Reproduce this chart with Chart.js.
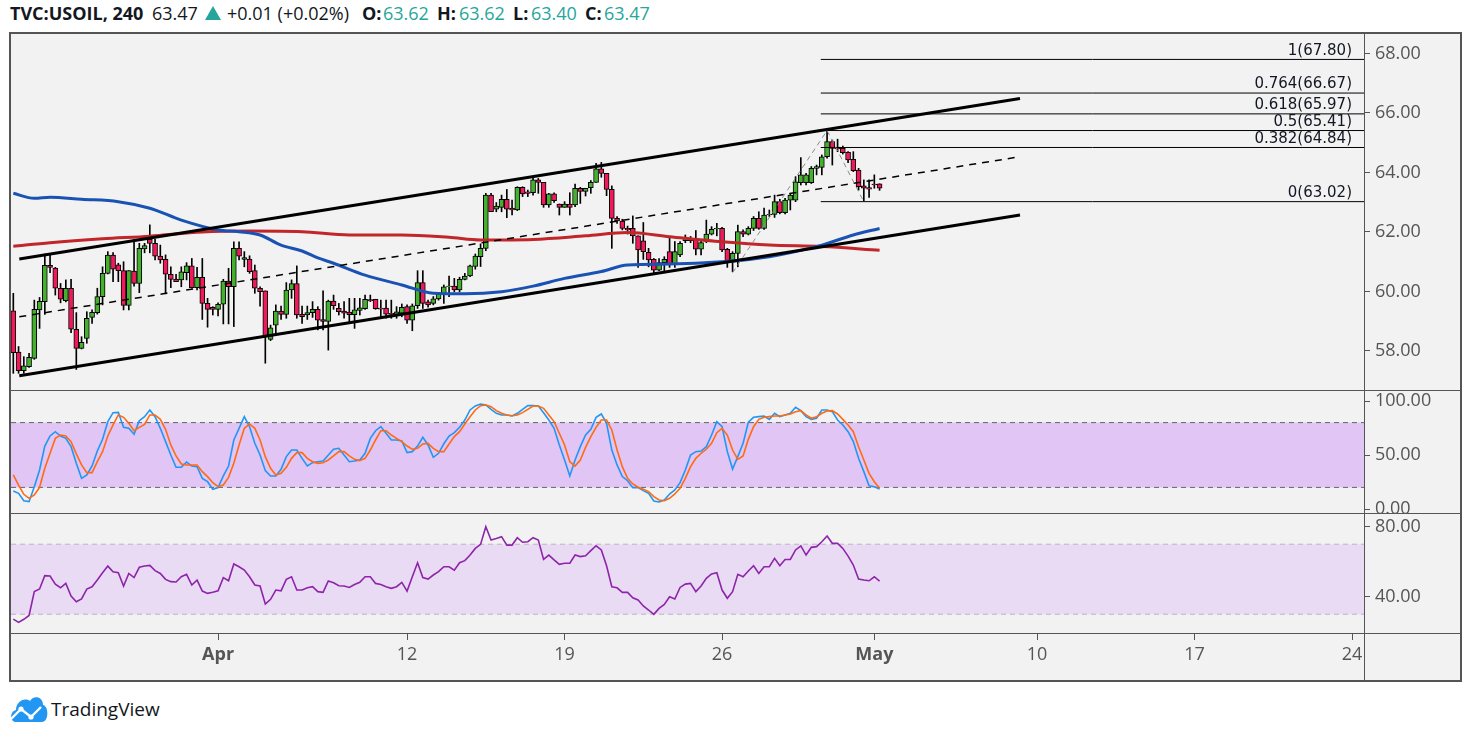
<!DOCTYPE html>
<html>
<head>
<meta charset="utf-8">
<script src="https://cdn.jsdelivr.net/npm/chart.js@4.4.1/dist/chart.umd.min.js"></script>
<style>
body{margin:0;background:#fff;width:1471px;height:737px;position:relative;overflow:hidden;font-family:'Open Sans',sans-serif;}
.h{position:absolute;top:0px;font-size:18px;line-height:26px;color:#131722;white-space:nowrap}
.b{font-weight:bold}
.t{color:#26a69a}
#frame{position:absolute;left:9px;top:32px;width:1449px;height:646px;border:2px solid #555;background:#f2f2f2}
.hl{position:absolute;left:11px;width:1449px;height:1px;background:#555}
.vl{position:absolute;left:1364px;top:34px;width:1px;height:646px;background:#555}
canvas{position:absolute;left:11px}
#tri{position:absolute;left:205px;top:6px;width:0;height:0;border-left:8px solid transparent;border-right:8px solid transparent;border-bottom:14px solid #26a69a}
#logo{position:absolute;left:9px;top:692px}
#tv{position:absolute;left:51px;top:696px;font-size:19px;line-height:26px;color:#131722}
</style>
</head>
<body>
<div class="h b" style="left:10px">TVC:USOIL, 240</div>
<div class="h" style="left:152px">63.47</div>
<div id="tri"></div>
<div class="h" style="left:227px">+0.01 (+0.02%)</div>
<div class="h b" style="left:362px">O:</div><div class="h t" style="left:383px">63.62</div>
<div class="h b" style="left:437px">H:</div><div class="h t" style="left:459px">63.62</div>
<div class="h b" style="left:513px">L:</div><div class="h t" style="left:531px">63.40</div>
<div class="h b" style="left:585px">C:</div><div class="h t" style="left:604px">63.47</div>

<div id="frame"></div>
<canvas id="price" width="1449" height="356" style="top:34px"></canvas>
<canvas id="stoch" width="1449" height="122" style="top:391px"></canvas>
<canvas id="rsi" width="1449" height="166" style="top:514px"></canvas>
<div class="hl" style="top:390px"></div>
<div class="hl" style="top:513px"></div>
<div class="hl" style="top:633px"></div>
<div class="vl"></div>

<svg id="logo" width="40" height="31" viewBox="0 0 40 31">
  <path d="M7 30 C1 30 0 20 7 18 C7 10 15 5 21 9 C24 3 34 4 34 13 C40 14 40 30 33 30 Z" fill="#2196f3"/>
  <polyline points="2,27 12,17 22,25 32,15" stroke="#fff" stroke-width="2.4" fill="none"/>
  <circle cx="12" cy="17" r="2.6" fill="#fff"/><circle cx="22" cy="25" r="2.6" fill="#fff"/>
</svg>
<div id="tv">TradingView</div>

<script>
// candles (4h bars, index 0 = first bar on the left)
const opens = [59.35,57.96,57.34,57.47,57.75,59.38,59.66,60.88,60.79,60.11,
59.69,60.11,58.73,58.09,58.42,59.13,59.29,59.83,60.61,61.22,
60.90,60.70,59.53,60.69,60.27,61.43,61.75,61.62,61.19,61.08,
60.58,60.42,60.39,60.63,60.86,60.13,60.48,59.60,59.47,59.40,
59.57,60.35,60.16,61.45,61.08,61.09,60.70,60.11,60.02,58.39,
58.87,59.34,59.23,60.05,60.27,59.23,59.21,59.29,59.40,59.06,
58.99,59.68,59.43,59.34,59.31,59.22,59.36,59.42,59.73,59.74,
59.44,59.44,59.27,59.23,59.27,59.49,59.04,59.52,60.30,59.65,
59.60,59.75,59.92,60.16,60.18,60.05,60.41,60.52,60.84,61.17,
61.45,63.24,62.77,62.83,63.10,62.80,62.74,63.50,63.35,63.32,
63.75,63.67,62.91,63.28,62.94,62.83,62.94,62.91,63.47,63.36,
63.49,63.67,64.12,63.97,63.43,62.46,62.37,62.12,62.12,61.87,
61.70,61.32,61.08,60.72,60.97,61.34,60.93,61.23,61.71,61.71,
61.79,61.42,61.68,61.93,62.10,62.12,61.42,61.04,61.28,62.01,
61.93,62.12,62.46,62.12,62.57,62.59,63.02,62.65,63.07,63.07,
63.66,63.66,63.66,64.14,64.17,64.53,65.04,64.85,64.81,64.68,
64.44,64.08,63.55,63.49,63.61,63.62];
const highs = [59.94,58.15,57.81,57.92,59.71,59.80,61.26,61.26,60.81,60.27,
60.39,60.41,59.29,58.48,59.32,59.38,60.11,60.83,61.34,61.31,
60.95,61.00,60.70,61.75,61.62,61.62,62.24,61.75,61.56,61.23,
60.83,60.58,60.83,60.97,61.11,60.81,61.11,59.77,59.49,59.62,
60.41,60.78,61.67,61.67,61.34,61.20,60.89,60.16,60.02,58.87,
59.55,59.51,60.30,60.39,60.86,59.51,59.51,59.66,59.49,60.02,
59.71,59.88,59.60,59.66,59.77,59.77,59.77,59.88,59.88,59.74,
59.71,59.71,59.71,59.49,59.58,59.55,59.58,60.70,60.70,59.71,
59.83,59.96,60.22,60.52,60.44,60.48,60.61,60.89,61.26,61.60,
63.30,63.30,62.99,63.24,63.43,63.07,63.52,63.52,63.41,63.80,
63.80,63.67,63.30,63.32,62.94,63.02,63.32,63.61,63.50,63.47,
63.73,64.31,64.34,63.97,63.55,62.52,62.43,62.20,62.54,61.87,
62.32,61.45,61.11,61.11,61.17,61.79,61.68,61.68,61.90,61.85,
62.05,61.73,62.40,62.18,62.29,62.16,61.45,61.34,62.23,62.07,
62.18,62.52,62.68,62.80,62.74,63.24,63.10,63.13,63.30,63.86,
64.50,63.97,64.20,64.25,64.59,65.41,65.09,65.12,64.89,64.70,
64.70,64.14,63.75,63.75,63.92,63.62];
const lows = [57.25,57.25,57.25,57.45,57.72,58.76,59.23,60.63,59.88,59.62,
59.65,58.62,57.38,58.07,58.26,58.93,59.24,59.55,60.59,60.33,
60.33,59.38,59.38,60.18,59.96,61.30,61.30,61.06,60.95,59.92,
60.13,60.33,60.16,60.39,60.11,60.05,59.06,58.80,59.21,59.18,
58.91,58.91,58.82,61.06,60.83,60.61,59.94,59.51,57.59,58.35,
58.59,59.06,59.10,59.77,59.10,58.93,59.06,59.13,58.71,58.71,
58.03,59.40,59.21,59.10,58.95,58.76,59.21,59.40,59.66,59.40,
59.10,59.10,59.10,59.10,59.15,58.93,58.68,59.43,59.43,59.47,
59.55,59.71,59.60,59.83,59.99,59.99,60.39,60.50,60.75,60.84,
61.37,62.68,62.68,62.68,62.48,62.57,62.72,63.19,63.19,63.24,
63.30,62.83,62.83,62.99,62.57,62.83,62.57,62.85,62.96,63.21,
63.30,63.67,63.84,63.22,61.45,62.29,62.07,61.93,61.62,60.81,
61.08,60.83,60.61,60.70,60.63,60.81,60.81,61.17,61.64,61.64,
61.23,61.23,61.64,61.90,61.87,61.34,60.81,60.67,60.83,61.84,
61.90,62.05,62.09,62.09,62.52,62.49,62.61,62.61,62.74,63.02,
63.58,63.58,63.63,63.92,63.92,64.48,64.25,64.70,64.62,64.33,
64.03,63.41,63.05,63.16,63.47,63.40];
const closes = [57.94,57.34,57.50,57.79,59.40,59.67,60.88,60.81,60.11,59.74,
60.11,58.73,58.09,58.29,59.10,59.30,59.83,60.61,61.22,60.75,
60.70,59.53,60.70,60.27,61.45,61.54,61.62,61.19,61.06,60.58,
60.41,60.33,60.66,60.86,60.13,60.48,59.60,59.40,59.40,59.57,
60.35,60.16,61.45,61.19,61.14,60.67,60.11,59.99,58.48,58.78,
59.34,59.23,60.05,60.27,59.21,59.15,59.29,59.40,59.04,58.99,
59.68,59.52,59.32,59.27,59.22,59.38,59.45,59.74,59.68,59.42,
59.41,59.24,59.23,59.32,59.47,59.04,59.52,60.30,59.60,59.55,
59.75,59.92,60.16,60.18,60.05,60.41,60.52,60.86,61.19,61.45,
63.24,62.68,62.87,63.10,62.77,62.74,63.50,63.28,63.30,63.75,
63.67,62.91,63.28,63.05,62.83,62.94,62.83,63.47,63.36,63.47,
63.67,64.12,63.97,63.43,62.46,62.37,62.12,62.07,61.87,61.40,
61.34,61.06,60.72,60.97,61.08,60.93,61.34,61.62,61.79,61.79,
61.42,61.64,61.93,62.09,62.12,61.40,61.04,61.28,62.01,61.93,
62.12,62.46,62.12,62.57,62.59,63.02,62.65,63.07,63.24,63.69,
63.92,63.92,64.14,64.20,64.53,65.04,64.81,64.79,64.67,64.42,
64.06,63.52,63.47,63.44,63.58,63.47];

// moving averages, read at a few bars
const blueIdx = [0,4,7,13,20,26,32,39,43,47,51,55,58,61,67,74,80,86,93,99,105,112,117,125,135,144,154,160,165];
const blueVal = [63.30,63.13,63.17,63.10,63.02,62.80,62.40,62.07,62.01,61.90,61.56,61.36,61.13,60.95,60.55,60.22,59.94,59.92,59.99,60.18,60.44,60.67,60.89,60.92,61.00,61.17,61.56,61.90,62.12];
const redIdx = [0,7,17,26,36,45,55,64,74,83,89,99,109,117,125,135,144,154,165];
const redVal = [61.52,61.64,61.77,61.86,62.00,62.03,62.01,61.90,61.90,61.82,61.73,61.75,61.87,61.98,61.84,61.67,61.56,61.51,61.39];

// drawings
const channelX = [1.14, 191.75];
const channelUp = [61.09, 66.49];
const channelMid = [59.15, 64.53];
const channelLow = [57.17, 62.57];
const zigIdx = [137, 155, 162];
const zigVal = [60.63, 65.41, 63.02];
const fibStart = 153.8;
const fibRatios = [1, 0.764, 0.618, 0.5, 0.382, 0];
const fibPrices = [67.80, 66.67, 65.97, 65.41, 64.84, 63.02];

// oscillators
const stochK = [16.7,14.5,7.7,6.8,20.7,36.1,58.3,67.6,71.6,67.6,
65.4,57.7,42.3,28.4,31.5,39.8,53.7,64.5,80.9,89.2,
89.5,75.6,74.7,69.2,81.8,85.5,91.7,85.5,74.7,62.4,
50.0,38.6,38.6,43.5,39.8,39.2,28.4,25.3,18.2,19.8,
30.6,39.8,63.9,74.7,85.5,76.2,60.8,50.0,35.5,30.6,
30.6,36.7,48.5,54.6,54.6,46.9,39.8,42.9,43.8,44.5,
50.0,55.3,56.2,50.0,43.8,44.5,45.4,51.6,65.4,72.5,
76.3,70.1,63.9,63.9,63.0,52.2,53.1,58.3,66.4,59.3,
47.9,51.6,60.4,67.6,70.7,75.6,82.4,91.7,95.4,97.2,
96.3,92.3,88.6,87.1,87.1,86.1,88.6,92.3,95.7,95.7,
95.4,89.2,82.4,74.7,59.3,45.4,30.6,45.4,57.7,68.5,
73.8,84.9,88.0,79.3,54.6,40.8,30.0,26.2,19.8,19.8,
17.0,14.5,7.4,6.5,8.3,13.9,17.6,24.4,36.1,50.0,
53.1,53.7,57.7,68.5,80.9,76.2,53.1,37.0,48.5,60.8,
80.3,84.9,85.5,86.1,83.0,88.6,85.5,87.1,88.6,94.2,
91.1,85.5,83.0,84.0,91.7,91.7,90.1,82.4,77.8,71.6,
62.4,46.9,34.6,21.6,20.7,18.5];
const stochD = [31.5,22.2,13.6,9.9,13.0,20.1,37.7,51.6,65.4,68.5,
67.6,62.4,51.0,40.8,33.7,33.7,43.8,53.1,67.6,77.8,
87.1,84.9,79.3,72.5,75.6,78.4,87.1,87.1,83.0,73.8,
59.3,49.1,41.7,40.8,40.8,40.8,34.6,30.0,24.4,20.7,
22.2,29.3,42.3,59.3,74.7,78.7,74.7,63.9,48.5,37.7,
31.5,33.0,38.6,46.9,52.2,52.2,46.9,43.8,42.3,42.9,
45.4,49.1,53.1,53.1,49.1,46.0,44.8,46.9,54.6,63.9,
72.5,72.5,68.5,65.4,62.4,58.3,55.3,56.2,60.2,60.8,
56.2,53.1,53.1,60.2,67.0,71.6,78.7,85.5,91.7,95.7,
96.3,94.8,91.1,88.6,87.1,86.4,87.1,89.2,92.3,95.4,
95.4,93.2,87.1,80.9,70.1,59.3,43.8,39.8,45.4,57.1,
67.0,75.6,82.4,82.4,73.2,54.6,39.2,28.4,23.2,20.1,
18.2,16.1,11.4,8.3,7.7,9.9,13.9,19.2,28.4,39.2,
46.9,51.6,55.3,60.8,70.7,74.7,68.5,54.6,46.0,49.1,
64.5,76.2,83.0,84.9,85.5,86.1,86.1,87.1,88.0,90.1,
91.1,87.1,84.0,85.5,88.6,90.8,91.1,88.0,83.0,77.8,
71.6,57.7,45.4,33.0,25.3,19.2];
const rsi = [27.2,25.3,27.1,29.3,42.9,44.4,52.0,51.8,47.2,45.1,
47.6,40.4,37.1,38.7,44.4,45.7,49.5,53.7,57.5,54.3,
53.7,46.1,53.3,50.9,56.8,57.5,57.9,54.9,53.3,49.9,
48.6,48.4,51.4,52.8,46.7,49.5,43.2,41.9,42.5,43.4,
50.9,49.1,58.7,57.1,55.2,51.4,46.7,46.1,35.8,38.5,
43.8,43.4,49.9,51.4,43.8,43.8,45.1,45.7,42.9,42.5,
49.0,48.0,46.3,46.1,45.3,47.0,48.2,51.4,51.4,47.6,
47.0,45.7,44.8,45.7,48.2,43.2,51.4,59.4,50.9,50.1,
52.4,54.3,57.1,57.1,55.2,59.4,60.6,63.8,67.6,69.9,
80.0,72.4,73.3,74.3,69.5,69.5,73.7,71.1,71.4,73.7,
72.4,61.3,63.8,61.0,58.5,59.1,59.1,63.8,62.9,63.4,
66.3,69.1,66.7,57.7,45.7,45.1,42.5,42.5,39.4,38.1,
34.7,32.4,29.9,33.3,35.6,40.0,38.7,45.3,47.2,47.6,
42.9,46.1,50.5,53.0,53.7,43.8,39.1,42.9,52.8,51.4,
54.7,57.7,53.3,57.1,57.1,61.9,57.7,61.3,61.3,66.7,
69.0,63.8,68.2,68.6,71.4,74.7,70.5,70.5,67.6,63.2,
58.1,50.1,49.5,49.1,51.4,48.9];
const stochLevels = [80, 20];
const rsiLevels = [70, 30];

const tickIdx = [39, 75, 105, 135, 164, 195, 225, 255];
const tickLabels = ['Apr', '12', '19', '26', 'May', '10', '17', '24'];

const xMin = -0.44, xMax = 257.27;
const AXIS_W = 96;
const axisFont = {family: 'Open Sans', size: 18};

function xAxis(show) {
    return {
        type: 'linear', min: xMin, max: xMax, offset: false, display: show,
        grid: {display: show, drawOnChartArea: false, drawTicks: true, tickLength: 7, color: '#555', offset: false},
        border: {display: false},
        afterBuildTicks: s => { s.ticks = tickIdx.map(v => ({value: v})); },
        afterFit: s => {
            if (show) s.height = 47;
            s.paddingLeft = 0; s.paddingRight = 0;
        },
        ticks: {
            autoSkip: false, maxRotation: 0, padding: 4, color: '#555',
            callback: (v, i) => tickLabels[i],
            font: ctx => ({family: 'Open Sans', size: 18,
                weight: (ctx.tick && isNaN(Number(ctx.tick.label))) ? 'bold' : 'normal'})
        }
    };
}

function yAxis(min, max, ticks) {
    return {
        position: 'right', min: min, max: max,
        grid: {drawOnChartArea: false, drawTicks: true, tickLength: 6, color: '#555'},
        border: {display: false},
        afterBuildTicks: s => { s.ticks = ticks.map(v => ({value: v})); },
        afterFit: s => { s.width = AXIS_W; s.paddingTop = 0; s.paddingBottom = 0; },
        ticks: {padding: 5, color: '#555', font: axisFont, callback: v => Number(v).toFixed(2)}
    };
}

const baseOpts = {
    responsive: false, animation: false, devicePixelRatio: 1,
    layout: {padding: 0, autoPadding: false},
    plugins: {legend: {display: false}, tooltip: {enabled: false}}
};

function pts(xs, ys) { return xs.map((x, i) => ({x: x, y: ys[i]})); }
function lineDs(data, color, width, extra) {
    return Object.assign({type: 'line', data: data, borderColor: color, borderWidth: width,
        pointRadius: 0, fill: false, order: 5}, extra || {});
}

// ---- price pane ----
const idx = closes.map((c, i) => i);
const bodyColors = idx.map(i => closes[i] >= opens[i] ? '#45b02d' : '#ef1a5b');

const fibLabels = {
    id: 'fibLabels',
    afterDatasetsDraw(chart) {
        const ctx = chart.ctx, y = chart.scales.y, area = chart.chartArea;
        ctx.save();
        ctx.font = '15px "DejaVu Sans"';
        ctx.fillStyle = '#131722';
        ctx.textAlign = 'right';
        ctx.textBaseline = 'bottom';
        fibPrices.forEach((p, i) => {
            ctx.fillText(fibRatios[i] + '(' + p.toFixed(2) + ')', area.right - 12, y.getPixelForValue(p) - 1);
        });
        ctx.restore();
    }
};

const priceSets = [
    {type: 'bar', data: idx.map(i => ({x: i, y: [lows[i], highs[i]]})), backgroundColor: '#000',
        barThickness: 1, grouped: false, order: 20},
    {type: 'bar', data: idx.map(i => ({x: i, y: [opens[i], closes[i]]})), backgroundColor: bodyColors,
        borderColor: '#000', borderWidth: 1, borderSkipped: false, barThickness: 5, grouped: false, order: 19},
    lineDs(pts(blueIdx, blueVal), '#1a52b3', 3, {cubicInterpolationMode: 'monotone', order: 10}),
    lineDs(pts(redIdx, redVal), '#c0262a', 3, {cubicInterpolationMode: 'monotone', order: 10}),
    lineDs(pts(channelX, channelUp), '#000', 3),
    lineDs(pts(channelX, channelLow), '#000', 3),
    lineDs(pts(channelX, channelMid), '#000', 1.5, {borderDash: [7, 6]}),
    lineDs(pts(zigIdx, zigVal), '#8a8a8a', 1, {borderDash: [5, 4], order: 4})
];
fibPrices.forEach(p => priceSets.push(lineDs([{x: fibStart, y: p}, {x: xMax, y: p}], '#000', 1)));

new Chart(document.getElementById('price'), {
    type: 'bar',
    data: {datasets: priceSets},
    options: Object.assign({}, baseOpts, {
        scales: {x: xAxis(false), y: yAxis(56.689, 68.655, [58, 60, 62, 64, 66, 68])}
    }),
    plugins: [fibLabels]
});

// ---- stochastic pane ----
new Chart(document.getElementById('stoch'), {
    type: 'line',
    data: {datasets: [
        lineDs([{x: xMin, y: stochLevels[0]}, {x: xMax, y: stochLevels[0]}], '#666', 1, {borderDash: [5, 4], order: 10}),
        lineDs([{x: xMin, y: stochLevels[1]}, {x: xMax, y: stochLevels[1]}], '#666', 1,
            {borderDash: [5, 4], order: 10, fill: '-1', backgroundColor: '#e1c5f4'}),
        lineDs(pts(idx, stochK), '#2196f3', 1.6, {order: 2}),
        lineDs(pts(idx, stochD), '#ff6a13', 1.6, {order: 1})
    ]},
    options: Object.assign({}, baseOpts, {
        scales: {x: xAxis(false), y: yAxis(-3.70, 109.26, [0, 50, 100])}
    })
});

// ---- RSI pane ----
new Chart(document.getElementById('rsi'), {
    type: 'line',
    data: {datasets: [
        lineDs([{x: xMin, y: rsiLevels[0]}, {x: xMax, y: rsiLevels[0]}], '#bdb3c4', 1, {borderDash: [5, 4], order: 10}),
        lineDs([{x: xMin, y: rsiLevels[1]}, {x: xMax, y: rsiLevels[1]}], '#bdb3c4', 1,
            {borderDash: [5, 4], order: 10, fill: '-1', backgroundColor: '#e9dbf3'}),
        lineDs(pts(idx, rsi), '#8e24aa', 1.6, {order: 1})
    ]},
    options: Object.assign({}, baseOpts, {
        scales: {x: xAxis(true), y: yAxis(19.26, 87.26, [40, 80])}
    })
});
</script>
</body>
</html>
